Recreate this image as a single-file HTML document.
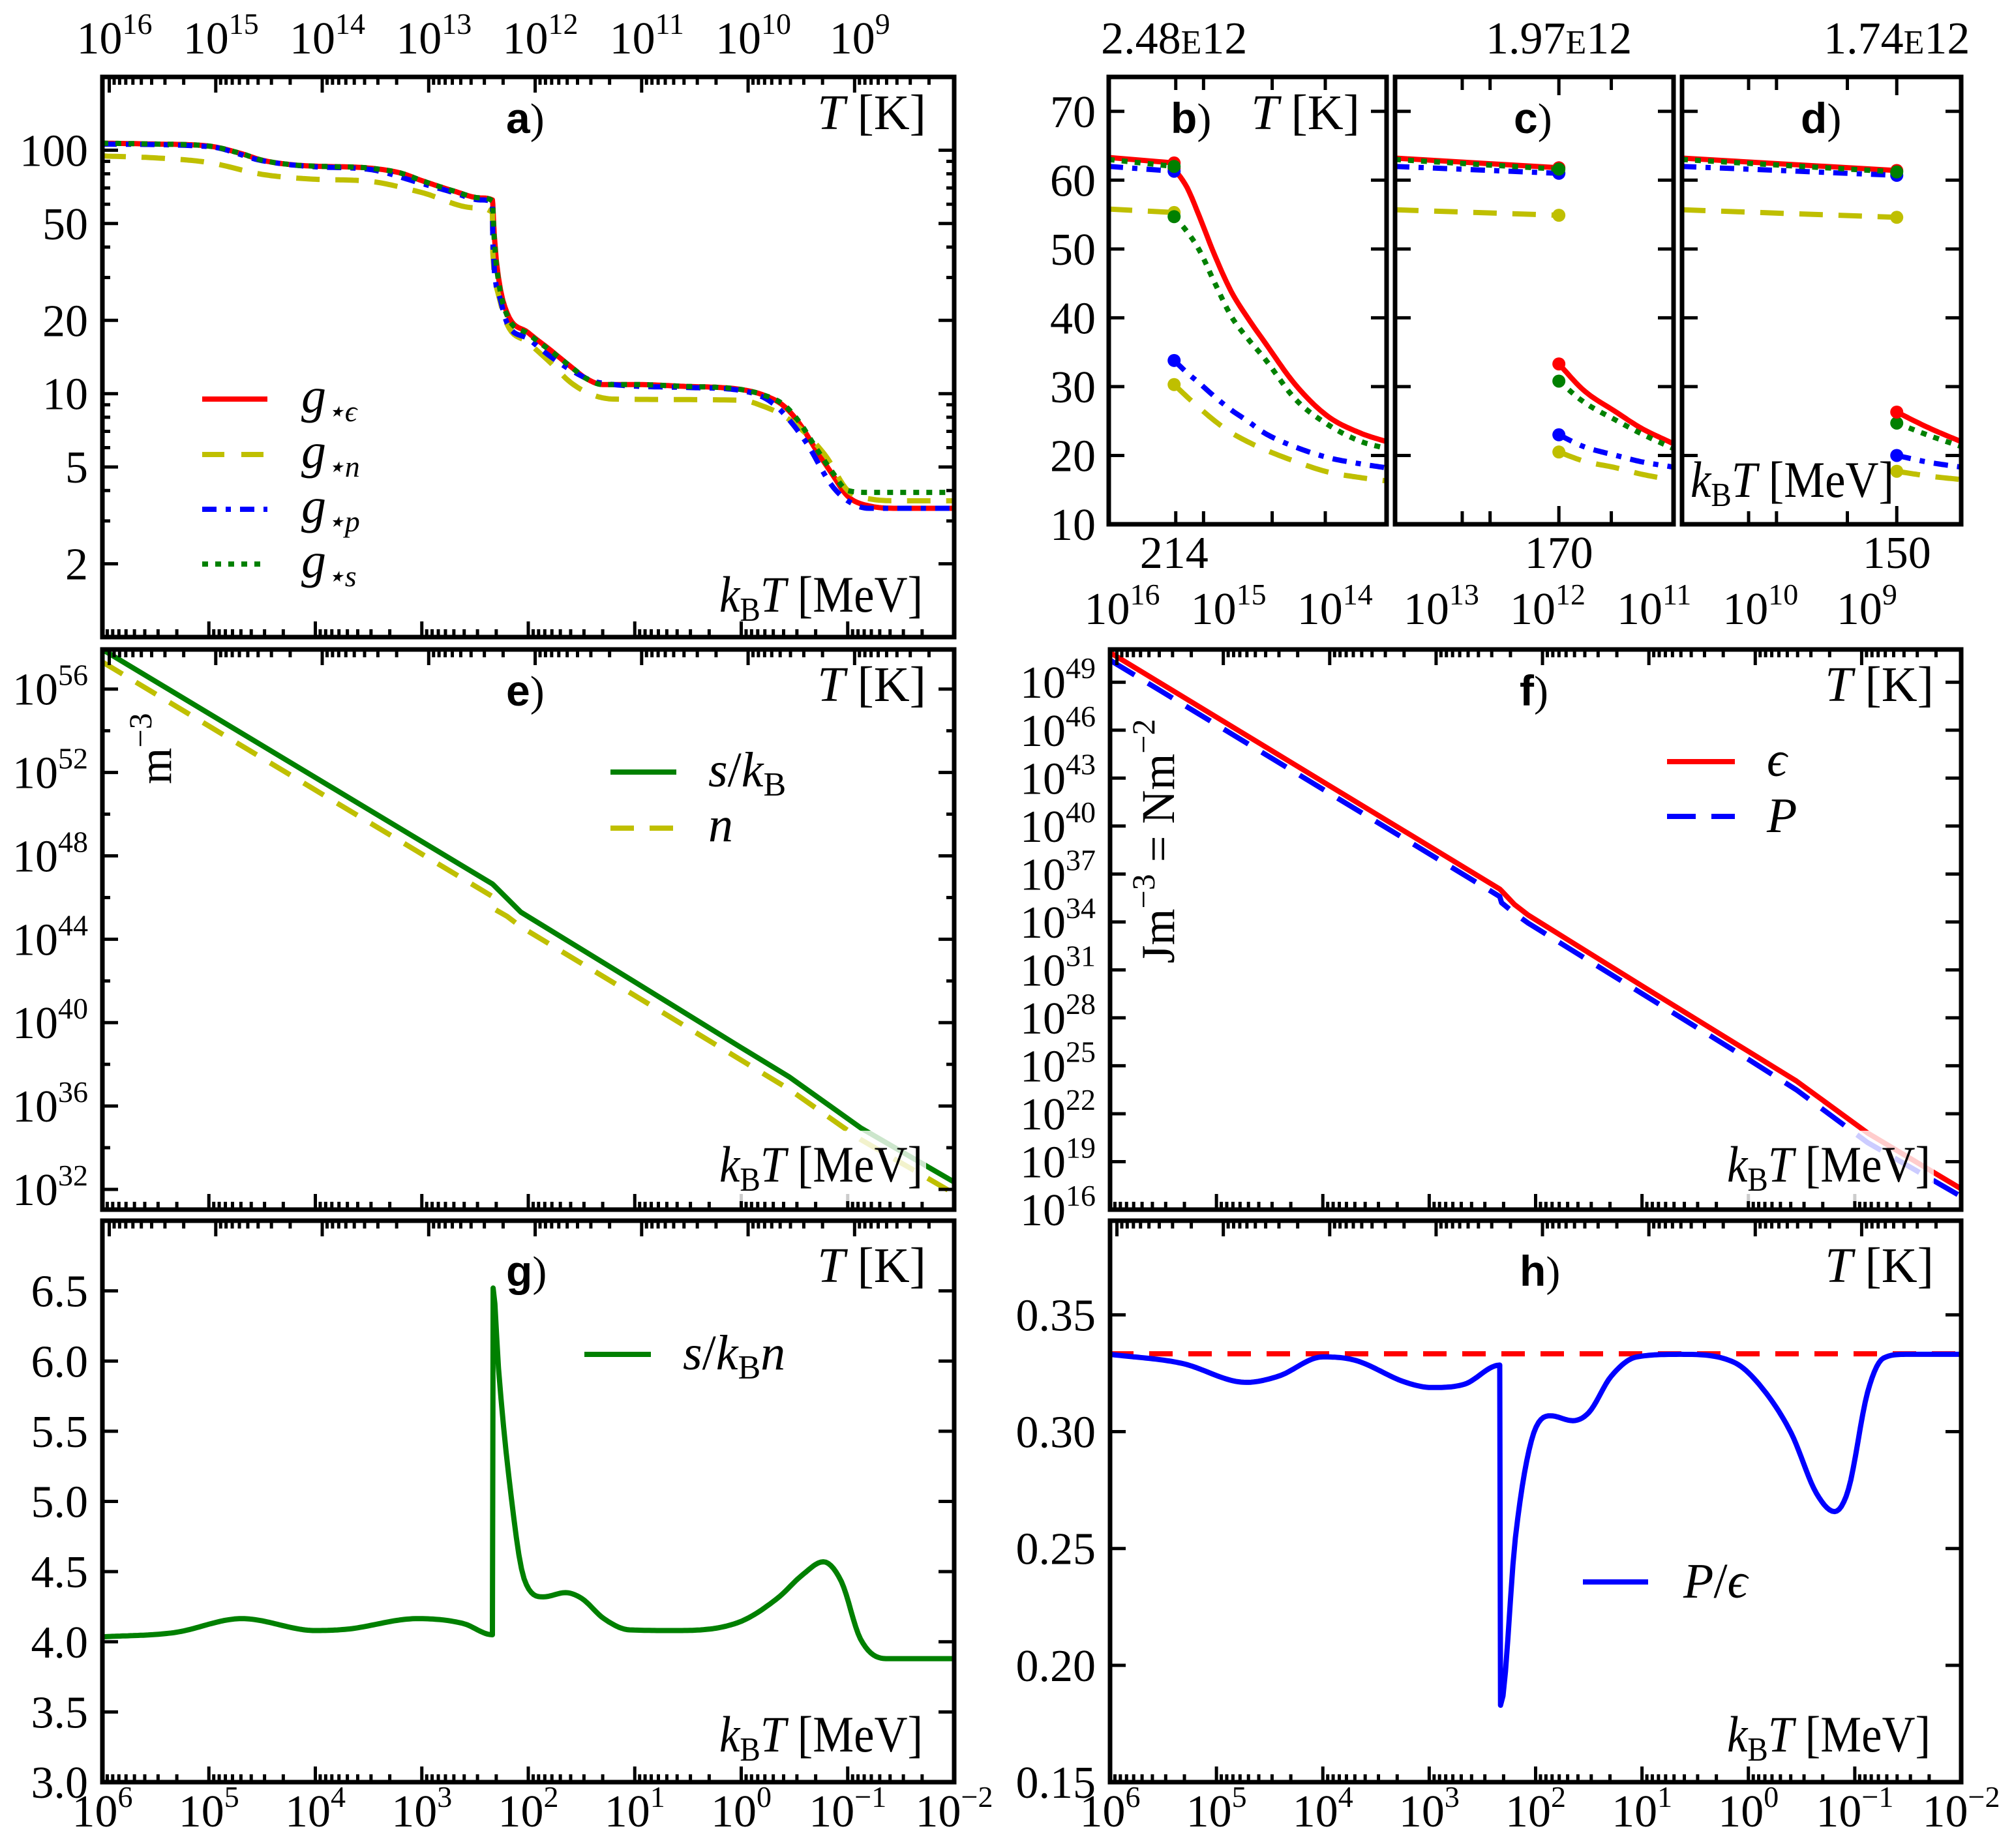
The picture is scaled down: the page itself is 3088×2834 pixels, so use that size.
<!DOCTYPE html>
<html><head><meta charset="utf-8">
<style>
html,body{margin:0;padding:0;background:#fff;}
svg{display:block;font-family:"Liberation Serif","DejaVu Serif",serif;}
</style></head>
<body>
<svg id="chart" xmlns="http://www.w3.org/2000/svg" width="3088" height="2834" viewBox="0 0 3088 2834"></svg>
<script>
// ===== DATA =====
const aRedLogT = [6,5.5,5,4.7,4.5,4.2,4,3.5,3.2,3,2.7,2.45,2.337,2.33,2.32,2.28,2.2,2.0,1.8,1.6,1.45,1.3,1.0,0.5,0.2,0,-0.2,-0.4,-0.55,-0.7,-0.85,-1,-1.2,-1.5,-2];
const aGEps = [106.9,106,104,97,91,87,86,84.5,80.6,75,68,63.7,62.5,56,45,30,21.5,17.8,15.2,12.9,11.5,10.9,10.9,10.7,10.6,10.4,9.9,8.9,7.5,5.9,4.7,3.79,3.46,3.38,3.38];
const aGS = [106.9,106,104,97,91,87,86,84.5,80.6,75,68,63.7,62.0,54.7,43,29,21,17.6,15.1,12.9,11.5,10.9,10.9,10.7,10.6,10.4,9.9,9.0,7.6,6.0,4.8,4.0,3.93,3.93,3.93];
const aBlueLogT = [6,5,4.5,4,3.5,3,2.7,2.45,2.337,2.333,2.28,2.2,2.0,1.8,1.6,1.4,1.2,0.5,0,-0.3,-0.6,-0.85,-1,-1.2,-2];
const aGP = [106,103.5,90.6,85.5,83.5,73,67,62.5,61.3,42,26,19.5,16.8,14.3,12.5,11.3,10.9,10.6,10.3,9.1,6.4,4.2,3.63,3.38,3.38];
const aYelLogT = [6,5.5,5,4.5,4,3.5,3,2.5,2.337,2.333,2.3,2.2,2.0,1.8,1.6,1.4,1.2,0,-0.2,-0.4,-0.6,-0.8,-1,-1.2,-1.5,-2];
const aGN = [94.7,93,89,79.6,76,74.6,67,58,55.5,38,27.5,19.3,16.2,13.5,11.1,9.9,9.5,9.4,8.9,8.1,6.9,5.5,4.0,3.7,3.63,3.63];
const bUpT = [222,214];
const bEpsUp = [63.3,62.5], bNUp = [55.8,55.3], bPUp = [62.0,61.3], bSUp = [63.0,62.0];
const bLowT = [214,212.4,210.9,209,207,205,203,199.1,195.2,191.3,188];
const bEpsLow = [61.7,58.9,54.7,49,43.8,40,36.6,30.2,25.7,23.3,22.0];
const bSLow = [54.7,52.5,49.8,45,40.2,37,34.2,28.1,24.5,22.1,21.0];
const bPLow = [33.8,32.0,30.5,28.5,26.6,25,23.3,21.2,19.7,18.8,18.2];
const bNLow = [30.3,28.5,26.9,25,23.3,22,20.9,19.1,17.6,16.8,16.3];
const cUpT = [180,170];
const cEpsUp = [63.2,61.8], cNUp = [55.7,54.9], cPUp = [62.0,61.0], cSUp = [63.0,61.6];
const cLowT = [170,168.5,166.5,165,163];
const cEpsLow = [33.3,29.5,26.3,24,21.7];
const cSLow = [30.8,27.8,25.1,23.2,21.0];
const cPLow = [23.0,21.3,20.0,19.1,18.3];
const cNLow = [20.5,19.2,18.2,17.3,16.4];
const dUpT = [160,150];
const dEpsUp = [63.2,61.4], dNUp = [55.7,54.6], dPUp = [62.0,60.7], dSUp = [63.0,61.2];
const dLowT = [150,148.5,147];
const dEpsLow = [26.3,24.0,22.0];
const dSLow = [24.7,22.9,21.3];
const dPLow = [20.0,19.0,18.3];
const dNLow = [17.7,17.0,16.5];
const efLogT = [6,2.337,2.32,2.2,2.07,1.0,0.0,-0.45,-1.12,-2];
const eLogS = [57.9,46.65,46.57,45.96,45.3,41.95,38.8,37.4,34.96,32.35];
const eLogN = [57.3,46.05,45.45,45.1,44.6,41.3,38.2,36.8,34.4,31.8];
const fLogEps = [50.86,36.06,35.95,35.1,34.43,30.0,25.9,24.05,20.8,17.3];
const fLogP = [50.38,35.59,35.2,34.55,33.93,29.52,25.4,23.5,20.2,16.82];
const gLogT = [6,5.33,4.69,4.0,3.70,3.04,2.61,2.337,2.33,2.28,2.16,2.04,1.86,1.65,1.50,1.29,1.05,0.63,0.02,-0.34,-0.58,-0.77,-0.94,-1.12,-1.36,-2];
const gSn = [4.035,4.065,4.165,4.08,4.09,4.165,4.13,4.05,6.52,5.95,5.03,4.45,4.32,4.35,4.31,4.165,4.085,4.08,4.14,4.31,4.48,4.57,4.43,4.02,3.88,3.88];
const hLogT = [6,5.33,4.72,4.42,4.0,3.70,3.22,2.98,2.67,2.337,2.33,2.19,2.04,1.86,1.65,1.5,1.29,1.05,0.63,0.14,-0.1,-0.4,-0.64,-0.81,-0.94,-1.12,-1.27,-1.48,-2];
const hPe = [0.3331,0.3293,0.3211,0.3237,0.3320,0.3306,0.3211,0.3189,0.3203,0.3285,0.1829,0.2546,0.2961,0.3068,0.3047,0.3082,0.3237,0.3320,0.3331,0.3298,0.3203,0.2996,0.2736,0.2658,0.2753,0.3168,0.3315,0.3331,0.3331];
const hRef = [1/3];
const aYTicks = [100,50,20,10,5,2];
const eYTicks = [56,52,48,44,40,36,32];
const fYTicks = [49,46,43,40,37,34,31,28,25,22,19,16];
const gYTicks = ["3.0","3.5","4.0","4.5","5.0","5.5","6.0","6.5"];
const hYTicks = ["0.15","0.20","0.25","0.30","0.35"];
const bcdYTicks = [10,20,30,40,50,60,70];
const kbtDecades = [6,5,4,3,2,1,0,-1,-2];
const tempDecades = [16,15,14,13,12,11,10,9];
const bTicks = [213.8,210.4,202.0,195.5], cTicks = [175.9,174.2,170,166.8], dTicks = [156.9,155.6,152.3,150];
const tempTopLabels = ["2.48","1.97","1.74"];
const kbtBottomLabels = ["214","170","150"];

// ===== HELPERS =====
const NS = "http://www.w3.org/2000/svg";
const svg = document.getElementById("chart");
const LOGK = Math.log10(1.16045e10);
const RED="#ff0000", YEL="#bfbf00", BLUE="#0000ff", GRN="#008000";

function mk(tag, name, parent){
  const el = document.createElementNS(NS, tag);
  
  
  (parent||svg).appendChild(el);
  return el;
}
function attrs(el, o){ for (const k in o) el.setAttribute(k, o[k]); return el; }

const P = {
  a:{x0:157,x1:1463,y0:118,y1:977,name:"panel-a"},
  e:{x0:157,x1:1463,y0:996,y1:1855,name:"panel-e"},
  g:{x0:157,x1:1463,y0:1872,y1:2733,name:"panel-g"},
  f:{x0:1702,x1:3007,y0:996,y1:1855,name:"panel-f"},
  h:{x0:1702,x1:3007,y0:1872,y1:2733,name:"panel-h"},
  b:{x0:1700,x1:2126,y0:118,y1:804,name:"panel-b"},
  c:{x0:2139,x1:2566,y0:118,y1:804,name:"panel-c"},
  d:{x0:2579,x1:3007,y0:118,y1:804,name:"panel-d"}
};
function xLogT(p, lt){ return p.x0 + (6-lt)/8*(p.x1-p.x0); }
function yLin(p, v, lo, hi){ return p.y1 - (v-lo)/(hi-lo)*(p.y1-p.y0); }
function xLin(p, v, left, right){ return p.x0 + (left-v)/(left-right)*(p.x1-p.x0); }
const yA = v => yLin(P.a, Math.log10(v), 0, Math.log10(200));
const yE = v => yLin(P.e, v, 31.03, 57.9);
const yF = v => yLin(P.f, v, 16, 51.05);
const yG = v => yLin(P.g, v, 3.0, 7.0);
const yH = v => yLin(P.h, v, 0.15, 0.3903);
const yBCD = v => yLin(P.b, v, 10, 75);
const xB = v => xLin(P.b, v, 222, 188);
const xC = v => xLin(P.c, v, 180, 163);
const xD = v => xLin(P.d, v, 160, 147);

const defs = mk('defs','clip-defs');
for (const k in P){
  const p = P[k];
  const cp = mk('clipPath', 'clip-'+k, defs); cp.setAttribute('id','clip-'+k);
  const r = mk('rect','clip-rect-'+k, cp);
  attrs(r,{x:p.x0+3,y:p.y0+3,width:p.x1-p.x0-6,height:p.y1-p.y0-6});
}

function smoothPts(px, py){
  const n = px.length;
  if (n < 3) return px.map((x,i)=>[x,py[i]]);
  const d = [], m = new Array(n);
  for (let i=0;i<n-1;i++) d.push((py[i+1]-py[i])/(px[i+1]-px[i]));
  m[0]=d[0]; m[n-1]=d[n-2];
  for (let i=1;i<n-1;i++) m[i] = (d[i-1]*d[i] <= 0) ? 0 : (d[i-1]+d[i])/2;
  for (let i=0;i<n-1;i++){
    if (d[i]===0){ m[i]=0; m[i+1]=0; continue; }
    const a=m[i]/d[i], b=m[i+1]/d[i], s=a*a+b*b;
    if (s>9){ const t=3/Math.sqrt(s); m[i]=t*a*d[i]; m[i+1]=t*b*d[i]; }
  }
  const out=[];
  for (let i=0;i<n-1;i++){
    const h=px[i+1]-px[i];
    const steps = Math.max(2, Math.min(30, Math.ceil(Math.abs(h)/4)));
    for (let s=0;s<steps;s++){
      const t=s/steps, t2=t*t, t3=t2*t;
      const y=(2*t3-3*t2+1)*py[i]+(t3-2*t2+t)*h*m[i]+(-2*t3+3*t2)*py[i+1]+(t3-t2)*h*m[i+1];
      out.push([px[i]+t*h, y]);
    }
  }
  out.push([px[n-1],py[n-1]]);
  return out;
}

function series(p, key, name, xs, ys, fx, fy, color, dash, linear){
  const pl = mk('polyline', name);
  const px = xs.map(fx), py = ys.map(fy);
  const raw = linear ? px.map((x,i)=>[x,py[i]]) : smoothPts(px,py);
  const pts = raw.map(q=>q[0].toFixed(1)+","+q[1].toFixed(1)).join(" ");
  attrs(pl,{points:pts,fill:"none",stroke:color,"stroke-width":8,"stroke-linejoin":"round","clip-path":"url(#clip-"+key+")"});
  if (dash) pl.setAttribute("stroke-dasharray", dash);
  return pl;
}
function dot(name, x, y, color){
  const c = mk('circle', name);
  attrs(c,{cx:x,cy:y,r:10,fill:color});
}
function tick(name, x1,y1,x2,y2){
  const l = mk('line', name);
  attrs(l,{x1:x1,y1:y1,x2:x2,y2:y2,stroke:"#000","stroke-width":5});
}
function frame(p){
  const r = mk('rect', p.name+'-frame');
  attrs(r,{x:p.x0,y:p.y0,width:p.x1-p.x0,height:p.y1-p.y0,fill:"none",stroke:"#000","stroke-width":7});
}
function txt(name, x, y, s, size, anchor, extra){
  const t = mk('text', name);
  attrs(t,{x:x,y:y,"font-size":size,"text-anchor":anchor||"middle"});
  if (extra) attrs(t, extra);
  t.textContent = s;
  return t;
}
function powLabel(name, x, y, base, exp, anchor){
  const t = mk('text', name);
  attrs(t,{x:x,y:y,"font-size":70,"text-anchor":anchor||"middle"});
  const a = document.createElementNS(NS,'tspan'); a.textContent = base; t.appendChild(a);
  const b = document.createElementNS(NS,'tspan'); attrs(b,{"font-size":46,dy:-30}); b.textContent = exp; t.appendChild(b);
  return t;
}
function logXTicks(p, withBottomLabels, withTopLabels, topLabelY){
  for (const d of kbtDecades){
    const x = xLogT(p,d);
    tick(p.name+'-x-major-tick', x, p.y1, x, p.y1-24);
    if (withBottomLabels) powLabel(p.name+'-x-tick-label', x, 2801, "10", String(d).replace("-","\u2212"));
    if (d>-2) for (let m=2;m<=9;m++){
      const xm = xLogT(p, d-1+Math.log10(m));
      tick(p.name+'-x-minor-tick', xm, p.y1, xm, p.y1-12);
    }
  }
  for (let d=8; d<=16; d++){
    const lt = d - LOGK;
    if (lt<=6 && lt>=-2){
      const x = xLogT(p,lt);
      tick(p.name+'-top-major-tick', x, p.y0, x, p.y0+24);
    }
    for (let m=2;m<=9;m++){
      const lm = d+Math.log10(m)-LOGK;
      if (lm<6 && lm>-2){ const xm = xLogT(p,lm); tick(p.name+'-top-minor-tick', xm, p.y0, xm, p.y0+12); }
    }
  }
  if (withTopLabels) for (const d of tempDecades){
    powLabel(p.name+'-top-tick-label', xLogT(p, d-LOGK)+8, topLabelY, "10", String(d));
  }
}
function yTicksBoth(p, vals, fy, len){
  for (const v of vals){
    const y = fy(v);
    tick(p.name+'-y-tick', p.x0, y, p.x0+len, y);
    tick(p.name+'-y-tick-right', p.x1, y, p.x1-len, y);
  }
}
function panelLabel(p, letter, x, y){
  const t = mk('text', p.name+'-letter');
  attrs(t,{x:x,y:y,"font-size":66,"text-anchor":"start"});
  const a = document.createElementNS(NS,'tspan'); attrs(a,{"font-family":"Liberation Sans, sans-serif","font-weight":"bold"}); a.textContent = letter; t.appendChild(a);
  const b = document.createElementNS(NS,'tspan'); b.textContent = ")"; t.appendChild(b);
}
function tkLabel(p, xr, y){
  const t = mk('text', p.name+'-top-axis-title');
  attrs(t,{x:xr,y:y,"font-size":76,"text-anchor":"end"});
  const a = document.createElementNS(NS,'tspan'); attrs(a,{"font-style":"italic"}); a.textContent="T"; t.appendChild(a);
  const b = document.createElementNS(NS,'tspan'); b.textContent=" [K]"; t.appendChild(b);
}
function kbtLabel(p, x, y, anchor, box){
  if (box){
    const r = mk('rect', p.name+'-x-title-box');
    const w = 330;
    const left = anchor==="end" ? x-w+5 : x-8;
    attrs(r,{x:left,y:y-78,width:w,height:108,fill:"#fff","fill-opacity":0.8});
  }
  const t = mk('text', p.name+'-x-axis-title');
  attrs(t,{x:x,y:y,"font-size":78,"text-anchor":anchor,textLength:312,lengthAdjust:"spacingAndGlyphs"});
  const a = document.createElementNS(NS,'tspan'); attrs(a,{"font-style":"italic"}); a.textContent="k"; t.appendChild(a);
  const b = document.createElementNS(NS,'tspan'); attrs(b,{"font-size":52,dy:14}); b.textContent="B"; t.appendChild(b);
  const c = document.createElementNS(NS,'tspan'); attrs(c,{"font-style":"italic",dy:-14}); c.textContent="T"; t.appendChild(c);
  const d = document.createElementNS(NS,'tspan'); d.textContent=" [MeV]"; t.appendChild(d);
}
function legendLine(name, x1, x2, y, color, dash){
  const l = mk('line', name);
  attrs(l,{x1:x1,y1:y,x2:x2,y2:y,stroke:color,"stroke-width":8});
  if (dash) l.setAttribute("stroke-dasharray", dash);
}
function legendMath(name, x, y, parts){
  const t = mk('text', name);
  attrs(t,{x:x,y:y,"font-size":76,"text-anchor":"start"});
  for (const pt of parts){
    const s = document.createElementNS(NS,'tspan');
    if (pt.i) s.setAttribute("font-style","italic");
    if (pt.s) s.setAttribute("font-size", pt.s);
    if (pt.dy) s.setAttribute("dy", pt.dy);
    s.textContent = pt.t; t.appendChild(s);
  }
}
const DASH = "36 24", DASHDOT = "22 14 8 14", DOT = "9 11";

// ===== PANEL A =====
series(P.a,'a','g-eps-line',aRedLogT,aGEps,v=>xLogT(P.a,v),yA,RED);
series(P.a,'a','g-n-line',aYelLogT,aGN,v=>xLogT(P.a,v),yA,YEL,DASH);
series(P.a,'a','g-p-line',aBlueLogT,aGP,v=>xLogT(P.a,v),yA,BLUE,DASHDOT);
series(P.a,'a','g-s-line',aRedLogT,aGS,v=>xLogT(P.a,v),yA,GRN,DOT);
logXTicks(P.a,false,true,82);
yTicksBoth(P.a, aYTicks, yA, 24);
for (const v of [3,4,6,7,8,9,30,40,60,70,80,90,200]){ const y=yA(v); if(y>P.a.y0){ tick('panel-a-y-minor-tick',P.a.x0,y,P.a.x0+12,y); tick('panel-a-y-minor-tick-right',P.a.x1,y,P.a.x1-12,y);} }
for (const v of aYTicks) txt('panel-a-y-tick-label', 135, yA(v)+24, String(v), 70, "end");
frame(P.a);
panelLabel(P.a,"a",776,204);
tkLabel(P.a,1420,198);
kbtLabel(P.a,1415,938,"end",false);
legendLine('legend-g-eps-swatch',310,410,612,RED);
legendMath('legend-g-eps-label',462,632,[{t:"g",i:1},{t:"\u22C6\u03F5",s:46,dy:14,i:1}]);
legendLine('legend-g-n-swatch',310,410,697,YEL,"34 26");
legendMath('legend-g-n-label',462,717,[{t:"g",i:1},{t:"\u22C6n",s:46,dy:14,i:1}]);
legendLine('legend-g-p-swatch',310,410,781,BLUE,DASHDOT);
legendMath('legend-g-p-label',462,801,[{t:"g",i:1},{t:"\u22C6p",s:46,dy:14,i:1}]);
legendLine('legend-g-s-swatch',310,410,865,GRN,DOT);
legendMath('legend-g-s-label',462,885,[{t:"g",i:1},{t:"\u22C6s",s:46,dy:14,i:1}]);

// ===== PANELS B, C, D =====
function zoomPanel(p, key, fx, upT, eu, nu, pu, su, lowT, el, sl, pl, nl, ticks, tc, tLabel, kLabel){
  series(p,key,key+'-g-eps-upper',upT,eu,fx,yBCD,RED);
  series(p,key,key+'-g-n-upper',upT,nu,fx,yBCD,YEL,DASH);
  series(p,key,key+'-g-p-upper',upT,pu,fx,yBCD,BLUE,DASHDOT);
  series(p,key,key+'-g-s-upper',upT,su,fx,yBCD,GRN,DOT);
  series(p,key,key+'-g-eps-lower',lowT,el,fx,yBCD,RED);
  series(p,key,key+'-g-n-lower',lowT,nl,fx,yBCD,YEL,DASH);
  series(p,key,key+'-g-p-lower',lowT,pl,fx,yBCD,BLUE,DASHDOT);
  series(p,key,key+'-g-s-lower',lowT,sl,fx,yBCD,GRN,DOT);
  const xc = fx(tc);
  dot(key+'-dot-n-upper',xc,yBCD(nu[nu.length-1]),YEL);
  dot(key+'-dot-n-lower',xc,yBCD(nl[0]),YEL);
  dot(key+'-dot-p-lower',xc,yBCD(pl[0]),BLUE);
  dot(key+'-dot-s-lower',xc,yBCD(sl[0]),GRN);
  dot(key+'-dot-eps-lower',xc,yBCD(el[0]),RED);
  dot(key+'-dot-p-upper',xc,yBCD(pu[pu.length-1]),BLUE);
  dot(key+'-dot-eps-upper',xc,yBCD(eu[eu.length-1]),RED);
  dot(key+'-dot-s-upper',xc,yBCD(su[su.length-1]),GRN);
  yTicksBoth(p, bcdYTicks, yBCD, 24);
  for (const t of ticks){ const x=fx(t); const len = (t===tc)?28:20; tick(key+'-x-tick',x,p.y1,x,p.y1-len); tick(key+'-top-tick',x,p.y0,x,p.y0+len); }
  frame(p);
  txt(key+'-x-tick-label', xc, 871, kLabel, 70);
  const t = mk('text', key+'-top-tick-label');
  attrs(t,{x:xc,y:82,"font-size":70,"text-anchor":"middle"});
  const s1=document.createElementNS(NS,'tspan'); s1.textContent=tLabel; t.appendChild(s1);
  const s2=document.createElementNS(NS,'tspan'); s2.setAttribute("font-size",52); s2.textContent="E"; t.appendChild(s2);
  const s3=document.createElementNS(NS,'tspan'); s3.textContent="12"; t.appendChild(s3);
}
zoomPanel(P.b,'b',xB,bUpT,bEpsUp,bNUp,bPUp,bSUp,bLowT,bEpsLow,bSLow,bPLow,bNLow,bTicks,214,tempTopLabels[0],kbtBottomLabels[0]);
zoomPanel(P.c,'c',xC,cUpT,cEpsUp,cNUp,cPUp,cSUp,cLowT,cEpsLow,cSLow,cPLow,cNLow,cTicks,170,tempTopLabels[1],kbtBottomLabels[1]);
zoomPanel(P.d,'d',xD,dUpT,dEpsUp,dNUp,dPUp,dSUp,dLowT,dEpsLow,dSLow,dPLow,dNLow,dTicks,150,tempTopLabels[2],kbtBottomLabels[2]);
for (const v of bcdYTicks) txt('panel-b-y-tick-label', 1680, yBCD(v)+24, String(v), 70, "end");
panelLabel(P.b,"b",1795,204);
panelLabel(P.c,"c",2321,204);
panelLabel(P.d,"d",2761,204);
tkLabel(P.b,2085,198);
kbtLabel(P.d,2592,762,"start",false);

// ===== PANEL E =====
series(P.e,'e','s-over-kb-line',efLogT,eLogS,v=>xLogT(P.e,v),yE,GRN,null,true);
series(P.e,'e','n-line',efLogT,eLogN,v=>xLogT(P.e,v),yE,YEL,DASH,true);
logXTicks(P.e,false,false,0);
for (let v=32; v<=57; v+=2){ const y=yE(v); const len = (v%4===0)?24:12; tick('panel-e-y-tick',P.e.x0,y,P.e.x0+len,y); tick('panel-e-y-tick-right',P.e.x1,y,P.e.x1-len,y); }
for (const v of eYTicks) powLabel('panel-e-y-tick-label', 135, yE(v)+24, "10", String(v), "end");
kbtLabel(P.e,1415,1812,"end",true);
frame(P.e);
panelLabel(P.e,"e",776,1082);
tkLabel(P.e,1420,1075);
legendLine('legend-s-swatch',936,1037,1184,GRN);
legendMath('legend-s-label',1086,1206,[{t:"s",i:1},{t:"/"},{t:"k",i:1},{t:"B",s:52,dy:14}]);
legendLine('legend-n-swatch',936,1037,1270,YEL,DASH);
legendMath('legend-n-label',1086,1290,[{t:"n",i:1}]);
{ const t = mk('text','panel-e-y-axis-title'); attrs(t,{x:0,y:0,"font-size":72,"text-anchor":"middle",transform:"translate(262,1148) rotate(-90)"});
  const a=document.createElementNS(NS,'tspan'); a.textContent="m"; t.appendChild(a);
  const b=document.createElementNS(NS,'tspan'); attrs(b,{"font-size":50,dy:-30}); b.textContent="\u22123"; t.appendChild(b); }

// ===== PANEL F =====
series(P.f,'f','epsilon-line',efLogT,fLogEps,v=>xLogT(P.f,v),yF,RED,null,true);
series(P.f,'f','pressure-line',efLogT,fLogP,v=>xLogT(P.f,v),yF,BLUE,"44 24",true);
logXTicks(P.f,false,true,957);
yTicksBoth(P.f,fYTicks,yF,24);
for (const v of fYTicks) powLabel('panel-f-y-tick-label', 1680, yF(v)+24, "10", String(v), "end");
kbtLabel(P.f,2960,1812,"end",true);
frame(P.f);
panelLabel(P.f,"f",2330,1082);
tkLabel(P.f,2965,1075);
legendLine('legend-epsilon-swatch',2556,2660,1168,RED);
legendMath('legend-epsilon-label',2709,1190,[{t:"\u03F5",i:1}]);
legendLine('legend-pressure-swatch',2556,2660,1252,BLUE,"44 24");
legendMath('legend-pressure-label',2709,1276,[{t:"P",i:1}]);
{ const t = mk('text','panel-f-y-axis-title'); attrs(t,{x:0,y:0,"font-size":72,"text-anchor":"middle",transform:"translate(1800,1290) rotate(-90)"});
  const parts=[["Jm",0],["\u22123",1],[" = Nm",2],["\u22122",1]];
  let prev=0;
  for (const [s,sup] of parts){ const sp=document.createElementNS(NS,'tspan'); if(sup===1){attrs(sp,{"font-size":50,dy:-30}); prev=1;} else if(prev===1){attrs(sp,{dy:30}); prev=0;} sp.textContent=s; t.appendChild(sp);} }

// ===== PANEL G =====
series(P.g,'g','s-over-kbn-line',gLogT,gSn,v=>xLogT(P.g,v),yG,GRN);
logXTicks(P.g,true,false,0);
yTicksBoth(P.g,gYTicks.map(Number),yG,24);
for (const v of gYTicks) txt('panel-g-y-tick-label', 135, yG(+v)+24, v, 70, "end");
frame(P.g);
panelLabel(P.g,"g",776,1972);
tkLabel(P.g,1420,1966);
kbtLabel(P.g,1415,2686,"end",false);
legendLine('legend-s-over-kbn-swatch',896,998,2077,GRN);
legendMath('legend-s-over-kbn-label',1047,2100,[{t:"s",i:1},{t:"/"},{t:"k",i:1},{t:"B",s:52,dy:14},{t:"n",i:1,dy:-14}]);

// ===== PANEL H =====
{ const l = mk('line','conformal-limit-line');
  attrs(l,{x1:P.h.x0,x2:P.h.x1,y1:yH(hRef[0]),y2:yH(hRef[0]),stroke:RED,"stroke-width":8,"stroke-dasharray":"36 24","clip-path":"url(#clip-h)"}); }
series(P.h,'h','p-over-eps-line',hLogT,hPe,v=>xLogT(P.h,v),yH,BLUE);
logXTicks(P.h,true,false,0);
yTicksBoth(P.h,hYTicks.map(Number),yH,24);
for (const v of hYTicks) txt('panel-h-y-tick-label', 1680, yH(+v)+24, v, 70, "end");
frame(P.h);
panelLabel(P.h,"h",2330,1972);
tkLabel(P.h,2965,1966);
kbtLabel(P.h,2960,2686,"end",false);
legendLine('legend-p-over-eps-swatch',2427,2527,2426,BLUE);
legendMath('legend-p-over-eps-label',2581,2450,[{t:"P",i:1},{t:"/"},{t:"\u03F5",i:1}]);
</script>
</body></html>
